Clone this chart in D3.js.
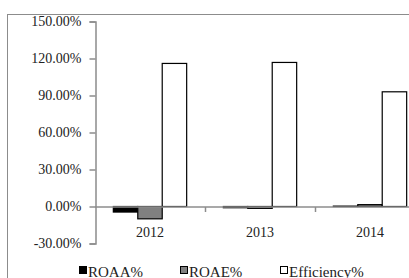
<!DOCTYPE html>
<html>
<head>
<meta charset="utf-8">
<script src="https://cdn.jsdelivr.net/npm/d3@7"></script>
<style>
  html, body { margin: 0; padding: 0; background: #fff; overflow: hidden; }
  svg { display: block; }
  svg text { font-family: "Liberation Serif", "Times New Roman", Times, serif; }
</style>
</head>
<body>
<svg id="chart" width="409" height="278"></svg>
<script>
/** Chart data **/
var years = ["2012", "2013", "2014"];
var series = ["ROAA%", "ROAE%", "Efficiency%"];
var roaa = [-4.5, -1.0, 0.3];
var roae = [-10.0, -1.5, 1.5];
var efficiency = [116.0, 116.8, 93.0];
var yTicks = [-30, 0, 30, 60, 90, 120, 150];

var fills = {"ROAA%": "#000000", "ROAE%": "#808080", "Efficiency%": "#ffffff"};
var values = {"ROAA%": roaa, "ROAE%": roae, "Efficiency%": efficiency};

var svg = d3.select("#chart");

/** Outer chart border (runs past the right / bottom of the frame) **/
svg.append("rect")
    .attr("x", 7.5).attr("y", 14.5)
    .attr("width", 600).attr("height", 400)
    .attr("fill", "none")
    .attr("stroke", "#8c8c8c")
    .attr("stroke-width", 1);

/** Scales **/
var xScale = d3.scaleBand()
    .domain(years)
    .range([95, 425])
    .padding(0);
var inner = d3.scaleBand()
    .domain(series)
    .range([0, xScale.bandwidth()])
    .paddingInner(0)
    .paddingOuter(0.75);
var yScale = d3.scaleLinear()
    .domain([-30, 150])
    .range([243.5, 21.5]);

/** Bars **/
var g = svg.append("g");
series.forEach(function (s) {
    g.selectAll(".bar-" + s.replace("%", ""))
        .data(years)
        .enter().append("rect")
        .attr("x", function (d) { return xScale(d) + inner(s); })
        .attr("width", inner.bandwidth())
        .attr("y", function (d, i) { return yScale(Math.max(0, values[s][i])); })
        .attr("height", function (d, i) { return Math.abs(yScale(values[s][i]) - yScale(0)); })
        .attr("fill", fills[s])
        .attr("stroke", "#000")
        .attr("stroke-width", 1.2);
});

/** Y axis **/
var yAxis = d3.axisLeft(yScale)
    .tickValues(yTicks)
    .tickSize(6)
    .tickPadding(8)
    .tickFormat(function (d) { return d.toFixed(2) + "%"; });
var yg = svg.append("g")
    .attr("transform", "translate(95.5,0)")
    .call(yAxis)
    .attr("font-family", null);
yg.select(".domain").attr("stroke", "#8c8c8c").attr("stroke-width", 1.5);
yg.selectAll(".tick line").attr("stroke", "#8c8c8c").attr("stroke-width", 1.5);
yg.selectAll(".tick text")
    .attr("fill", "#222")
    .style("font-size", "14px");

/** X axis at zero **/
var xg = svg.append("g")
    .attr("transform", "translate(0," + (yScale(0) + 0.5) + ")");
xg.append("line")
    .attr("x1", 95).attr("x2", 425)
    .attr("stroke", "#8c8c8c").attr("stroke-width", 1.5);
xg.selectAll(".xtick")
    .data(years.slice(1))
    .enter().append("line")
    .attr("x1", function (d) { return xScale(d) + 0.5; })
    .attr("x2", function (d) { return xScale(d) + 0.5; })
    .attr("y1", 0).attr("y2", 5)
    .attr("stroke", "#8c8c8c").attr("stroke-width", 1.5);
xg.selectAll(".xlabel")
    .data(years)
    .enter().append("text")
    .attr("x", function (d) { return xScale(d) + xScale.bandwidth() / 2; })
    .attr("y", 30)
    .attr("text-anchor", "middle")
    .attr("fill", "#222")
    .style("font-size", "14px")
    .text(function (d) { return d; });

/** Legend **/
var legendX = [79, 180, 280];
var legend = svg.selectAll(".legend")
    .data(series)
    .enter().append("g")
    .attr("transform", function (d, i) { return "translate(" + legendX[i] + ",266)"; });
legend.append("rect")
    .attr("x", 0.5).attr("y", 0.5)
    .attr("width", 7).attr("height", 7)
    .attr("fill", function (d) { return fills[d]; })
    .attr("stroke", "#000")
    .attr("stroke-width", 1);
legend.append("text")
    .attr("x", 9)
    .attr("y", 10.5)
    .attr("fill", "#222")
    .style("font-size", "15px")
    .text(function (d) { return d; });
</script>
</body>
</html>
